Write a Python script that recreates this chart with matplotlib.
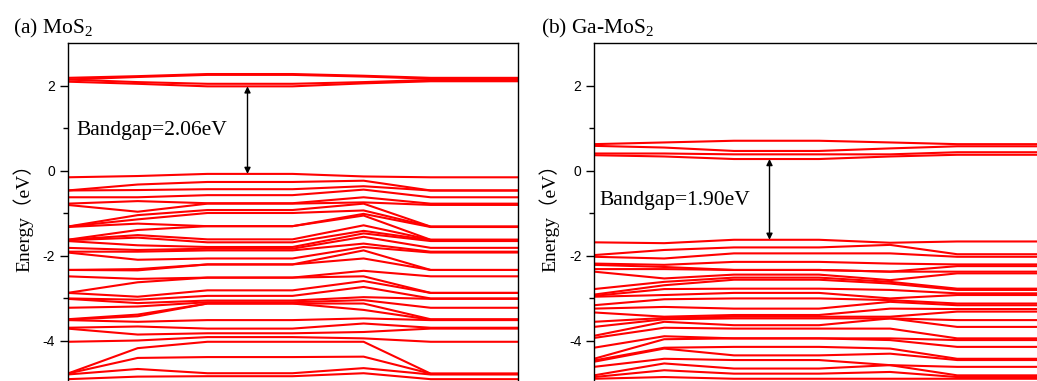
import numpy as np
import matplotlib.pyplot as plt
from matplotlib.ticker import FixedLocator

plt.rcParams['axes.unicode_minus'] = False
plt.rcParams['mathtext.default'] = 'regular'

# positions of the k-path nodes along the x axis
kpath = [0.0, 0.156, 0.311, 0.5, 0.658, 0.807, 1.0]

# ---- (a) MoS2 : energies (eV) at each k node, sorted ----
mos2_cb_k0 = [2.09, 2.14, 2.14, 2.18]
mos2_cb_k1 = [2.04, 2.08, 2.20, 2.22]
mos2_cb_k2 = [1.98, 2.04, 2.25, 2.27]
mos2_cb_k4 = [2.05, 2.08, 2.21, 2.23]
mos2_cb_k5 = [2.10, 2.13, 2.16, 2.18]

mos2_vb_k0 = [-0.16, -0.47, -0.47, -0.63, -0.78, -0.81, -1.32, -1.32, -1.33,
              -1.63, -1.63, -1.64, -1.66, -1.82, -1.91, -1.93, -2.34, -2.34,
              -2.49, -2.88, -2.88, -3.01, -3.02, -3.23, -3.50, -3.51, -3.52,
              -3.70, -3.72, -4.03, -4.78, -4.78, -4.80, -4.91]
mos2_vb_k1 = [-0.13, -0.33, -0.46, -0.63, -0.72, -0.97, -1.05, -1.15, -1.25,
              -1.40, -1.52, -1.58, -1.76, -1.87, -1.91, -2.10, -2.32, -2.35,
              -2.55, -2.63, -2.97, -3.04, -3.12, -3.20, -3.39, -3.43, -3.56,
              -3.67, -3.86, -4.00, -4.18, -4.41, -4.67, -4.85]
mos2_vb_k2 = [-0.08, -0.27, -0.44, -0.58, -0.77, -0.78, -0.93, -1.00, -1.31,
              -1.31, -1.62, -1.69, -1.80, -1.84, -1.88, -2.07, -2.21, -2.21,
              -2.52, -2.52, -2.82, -2.95, -3.06, -3.10, -3.13, -3.13, -3.52,
              -3.72, -3.83, -3.92, -4.03, -4.39, -4.77, -4.84]
mos2_vb_k4 = [-0.14, -0.24, -0.37, -0.45, -0.63, -0.75, -0.78, -0.94, -1.02,
              -1.06, -1.29, -1.42, -1.48, -1.56, -1.72, -1.80, -1.88, -2.07,
              -2.36, -2.49, -2.60, -2.74, -2.98, -3.05, -3.13, -3.28, -3.48,
              -3.60, -3.80, -3.95, -4.03, -4.38, -4.65, -4.77]

# ---- (b) Ga-MoS2 ----
gamos2_cb_k0 = [0.36, 0.40, 0.58, 0.62]
gamos2_cb_k1 = [0.33, 0.40, 0.54, 0.66]
gamos2_cb_k2 = [0.27, 0.38, 0.46, 0.70]
gamos2_cb_k4 = [0.33, 0.38, 0.52, 0.66]
gamos2_cb_k5 = [0.37, 0.43, 0.57, 0.62]

gamos2_vb_k0 = [-1.69, -1.99, -2.03, -2.19, -2.22, -2.32, -2.38, -2.79, -2.92,
                -2.95, -2.97, -3.17, -3.25, -3.34, -3.56, -3.68, -3.89, -3.94,
                -4.17, -4.43, -4.47, -4.50, -4.62, -4.82, -4.86, -4.90]
gamos2_vb_k1 = [-1.71, -1.87, -2.07, -2.22, -2.27, -2.32, -2.54, -2.62, -2.70,
                -2.79, -2.93, -3.03, -3.21, -3.44, -3.47, -3.50, -3.56, -3.70,
                -3.90, -3.97, -4.17, -4.19, -4.43, -4.54, -4.70, -4.86]
gamos2_vb_k2 = [-1.63, -1.81, -1.95, -2.15, -2.34, -2.34, -2.45, -2.52, -2.57,
                -2.78, -2.88, -3.01, -3.25, -3.40, -3.44, -3.48, -3.64, -3.72,
                -3.95, -3.95, -4.15, -4.35, -4.46, -4.66, -4.78, -4.90]
gamos2_vb_k4 = [-1.70, -1.75, -1.95, -2.19, -2.38, -2.38, -2.58, -2.62, -2.66,
                -2.81, -3.01, -3.05, -3.09, -3.25, -3.44, -3.48, -3.48, -3.72,
                -3.95, -3.99, -4.19, -4.31, -4.58, -4.58, -4.74, -4.90]
gamos2_vb_k5 = [-1.67, -1.97, -2.03, -2.21, -2.25, -2.38, -2.42, -2.78, -2.81,
                -2.89, -2.93, -3.13, -3.17, -3.26, -3.32, -3.52, -3.68, -3.95,
                -3.99, -4.15, -4.43, -4.46, -4.62, -4.82, -4.86, -4.90]

# band gaps (eV) and valence band maxima
gap_a, vbm_a = 2.06, -0.08
gap_b, vbm_b = 1.90, -1.63

serif = ['Liberation Serif', 'Noto Sans CJK SC']

fig = plt.figure(figsize=(10.37, 3.81), dpi=100)
W, H = 1037, 381
ax_a = fig.add_axes([67.5 / W, -2 / H, 450 / W, 340 / H])
ax_b = fig.add_axes([594 / W, -2 / H, 450 / W, 340 / H])


def draw_bands(ax, node_lists):
    bands = np.array(node_lists).T
    for b in bands:
        ax.plot(kpath, b, color='#ff0000', lw=1.5, solid_joinstyle='miter')


def style_axes(ax):
    ax.set_xlim(0, 1)
    ax.set_ylim(-5, 3)
    ax.set_xticks([])
    ax.yaxis.set_major_locator(FixedLocator([-4, -2, 0, 2]))
    ax.yaxis.set_minor_locator(FixedLocator([-3, -1, 1]))
    ax.tick_params(axis='y', which='major', direction='out', length=6,
                   width=1, pad=3, labelsize=10)
    ax.tick_params(axis='y', which='minor', direction='out', length=3.5, width=1)
    for lab in ax.get_yticklabels():
        lab.set_family('Liberation Sans')
    for sp in ax.spines.values():
        sp.set_linewidth(1.0)
        sp.set_zorder(3)
    ax.text(-0.099, 0.5, 'Energy（eV）', transform=ax.transAxes, rotation=90,
            ha='center', va='center', fontsize=14, family=serif)


# (a) MoS2
draw_bands(ax_a, [mos2_cb_k0, mos2_cb_k1, mos2_cb_k2, mos2_cb_k2,
                  mos2_cb_k4, mos2_cb_k5, mos2_cb_k5])
draw_bands(ax_a, [mos2_vb_k0, mos2_vb_k1, mos2_vb_k2, mos2_vb_k2,
                  mos2_vb_k4, mos2_vb_k0, mos2_vb_k0])
style_axes(ax_a)
ax_a.annotate('', xy=(0.40, vbm_a + gap_a), xytext=(0.40, vbm_a),
              arrowprops=dict(arrowstyle='<|-|>', color='black', lw=1.0,
                              mutation_scale=9, shrinkA=0, shrinkB=0))
ax_a.text(0.019, 0.835, 'Bandgap=%.2feV' % gap_a, fontsize=15.5,
          family=serif, va='baseline')

# (b) Ga-MoS2
draw_bands(ax_b, [gamos2_cb_k0, gamos2_cb_k1, gamos2_cb_k2, gamos2_cb_k2,
                  gamos2_cb_k4, gamos2_cb_k5, gamos2_cb_k5])
draw_bands(ax_b, [gamos2_vb_k0, gamos2_vb_k1, gamos2_vb_k2, gamos2_vb_k2,
                  gamos2_vb_k4, gamos2_vb_k5, gamos2_vb_k5])
style_axes(ax_b)
ax_b.annotate('', xy=(0.39, vbm_b + gap_b), xytext=(0.39, vbm_b),
              arrowprops=dict(arrowstyle='<|-|>', color='black', lw=1.0,
                              mutation_scale=9, shrinkA=0, shrinkB=0))
ax_b.text(0.012, -0.82, 'Bandgap=%.2feV' % gap_b, fontsize=15.5,
          family=serif, va='baseline')

fig.text(13 / W, 1 - 33.3 / H, '(a) MoS$_2$', fontsize=15.5, family=serif,
         va='baseline')
fig.text(541 / W, 1 - 33.3 / H, '(b) Ga-MoS$_2$', fontsize=15.5, family=serif,
         va='baseline')

fig.savefig('out.png', dpi=100)
